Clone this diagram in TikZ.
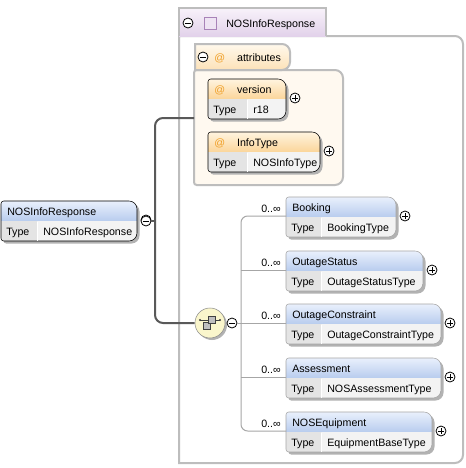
\documentclass[tikz,border=0pt]{standalone}
\usepackage{fontspec}
\setmainfont{Liberation Sans}
\usetikzlibrary{shadows}

\definecolor{elemtop}{HTML}{E9F0FC}
\definecolor{elembot}{HTML}{B8CCEE}
\definecolor{attrtop}{HTML}{FFF4DF}
\definecolor{attrbot}{HTML}{FBD59A}
\definecolor{attrat}{HTML}{F0A028}
\definecolor{attrbody}{HTML}{FFF9F0}
\definecolor{cplxtop}{HTML}{F8F2FA}
\definecolor{cplxbot}{HTML}{E2D2EA}
\definecolor{cplxsq}{HTML}{EEE3F3}
\definecolor{cplxsqline}{HTML}{A882B8}
\definecolor{typecell}{HTML}{E4E4E4}
\definecolor{valcell}{HTML}{F3F3F3}
\definecolor{seqfill}{HTML}{FAF6CC}
\definecolor{frameline}{HTML}{BDBDBD}
\definecolor{childline}{HTML}{A6A6A6}

\tikzset{
  boxtext/.style={anchor=base west, inner sep=0pt},
  pm/.style={circle, draw=black, fill=white, line width=0.6pt, minimum size=7.5pt, inner sep=0pt},
  expander/.style={pm, path picture={
    \draw[line width=0.6pt] ([xshift=-2pt]path picture bounding box.center) -- ([xshift=2pt]path picture bounding box.center)
      ([yshift=-2pt]path picture bounding box.center) -- ([yshift=2pt]path picture bounding box.center);}},
  collapser/.style={pm, path picture={
    \draw[line width=0.6pt] ([xshift=-2pt]path picture bounding box.center) -- ([xshift=2pt]path picture bounding box.center);}},
  elemshade/.style={top color=elemtop, bottom color=elembot},
  attrshade/.style={top color=attrtop, bottom color=attrbot},
  trunk/.style={draw=black!65, line width=1.5pt},
  branch/.style={draw=childline, line width=0.75pt},
}

% outline of one element box, left corners small, right corners large
\newcommand\boxoutline[4]{(#1,#2+#4) [rounded corners=2pt] -- (#1,#2) [rounded corners=6pt] -- (#1+#3,#2) -- (#1+#3,#2+#4) [rounded corners=2pt] -- cycle}

% name, x, top, width, type column, title, type, header shade, border
\newcommand\xsdbox[9]{%
  \fill[black!30] \boxoutline{#2+2.5}{#3+2.5}{#4}{40};
  \begin{scope}
    \clip \boxoutline{#2}{#3}{#4}{40};
    \shade[#8] (#2,#3) rectangle (#2+#4,#3+20);
    \fill[typecell] (#2,#3+20) rectangle (#2+#5,#3+40);
    \fill[valcell] (#2+#5,#3+20) rectangle (#2+#4,#3+40);
  \end{scope}
  \draw[#9] \boxoutline{#2}{#3}{#4}{40};
  \draw[white] (#2+#5,#3+20.5) -- (#2+#5,#3+39.5);
  \node[boxtext] (#1) at (#2+6,#3+14) {#6};
  \node[boxtext] at (#2+5,#3+34) {Type};
  \node[boxtext] at (#2+#5+6,#3+34) {#7};
  \coordinate (#1-in) at (#2,#3+19);
  \node[expander] (#1-plus) at (#2+#4+9,#3+19) {};
}

\begin{document}
\begin{tikzpicture}
[x=0.75pt, y=-0.75pt, font=\fontsize{8}{9.6}\selectfont]
  \useasboundingbox (0,0) rectangle (466,468);

  % complex type frame
  \draw[frameline, line width=1.5pt, fill=white] (179,463) -- (179,36) [rounded corners=6pt] -- (463,36) -- (463,463) [sharp corners] -- cycle;
  \shade[top color=cplxtop, bottom color=cplxbot] (179,8) rectangle (326,36);
  \draw[frameline, line width=1.5pt] (179,36) -- (179,8) -- (326,8) -- (326,36);
  \node[collapser] (cplx-minus) at (188,23) {};
  \draw[cplxsqline, fill=cplxsq] (204,17) rectangle (216,29);
  \node[boxtext] (cplx) at (226,27) {NOSInfoResponse};

  % attributes group
  \draw[frameline, line width=1.5pt, fill=attrbody] (194,185) [rounded corners=2pt] -- (194,70) [rounded corners=6pt] -- (343,70) -- (343,185) [rounded corners=2pt] -- cycle;
  \draw[frameline, line width=1.5pt, top color=attrtop!60, bottom color=attrbot!70] (195,70) -- (195,44) [rounded corners=6pt] -- (290,44) -- (290,70) [sharp corners] -- cycle;
  \node[collapser] (attrs-minus) at (203,57) {};
  \node[boxtext] (attrs) at (214,61) {\textcolor{attrat}{@}\hspace{9pt}attributes};
  \xsdbox{version}{208}{79}{78}{39}{\textcolor{attrat}{@}\hspace{9pt}version}{r18}{attrshade}{black}
  \xsdbox{infotype}{208}{132}{112}{39}{\textcolor{attrat}{@}\hspace{9pt}InfoType}{NOSInfoType}{attrshade}{black}

  % top element
  \xsdbox{resp}{1}{201}{136}{36}{NOSInfoResponse}{NOSInfoResponse}{elemshade}{black}
  \node[collapser] (resp-minus) at (146,221) {};

  % sequence
  \node[circle, draw=black!45, fill=seqfill, minimum size=22.5pt, inner sep=0pt,
        drop shadow={shadow xshift=1.5pt, shadow yshift=-1.5pt, fill=black!30, opacity=1}] (seq) at (210,323) {};
  \draw[black!75] (200,320) -- (220,320);
  \fill[black!75] (200,320) circle (1.2) (220,320) circle (1.2);
  \draw[black!75, fill=black!25] (203,322) rectangle (210,329);
  \draw[black!75, fill=black!25] (208,316) rectangle (215,323);
  \node[collapser] (seq-minus) at (232,323) {};

  % children
  \foreach \nm/\ty/\w/\yy in {Booking/BookingType/110/197, OutageStatus/OutageStatusType/137/251,
      OutageConstraint/OutageConstraintType/155/304, Assessment/NOSAssessmentType/155/358,
      NOSEquipment/EquipmentBaseType/146/412}
  {
    \xsdbox{\nm}{286}{\yy}{\w}{35}{\nm}{\ty}{elemshade}{childline}
    \node[boxtext, anchor=base east] at (281,\yy+15) {0..∞};
  }

  % connectors
  \coordinate (fork) at (155,221);
  \coordinate (attrs-in) at (194,118);
  \draw[trunk, rounded corners=6pt] (attrs-in) -| (fork) |- (seq);
  \draw[trunk] (resp-minus) -- (fork);

  \coordinate (cfork) at (241,323);
  \draw[branch] (seq-minus) -- (cfork);
  \draw[branch, rounded corners=5pt] (Booking-in) -| (cfork) |- (NOSEquipment-in);
  \foreach \nm in {OutageStatus, OutageConstraint, Assessment}
    \draw[branch] (cfork |- \nm-in) -- (\nm-in);
\end{tikzpicture}
\end{document}
